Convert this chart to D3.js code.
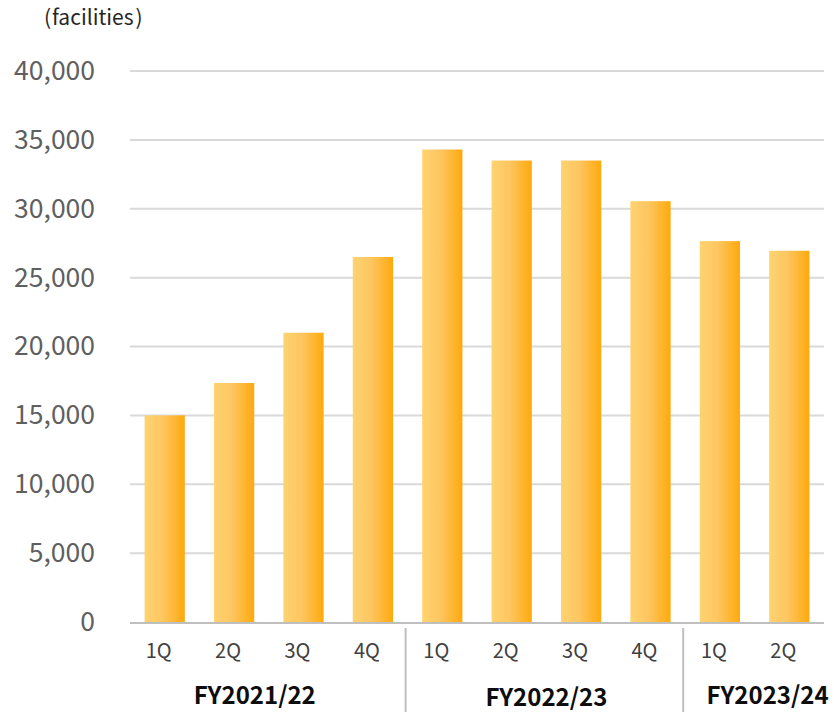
<!DOCTYPE html>
<html>
<head>
<meta charset="utf-8">
<script src="https://cdn.jsdelivr.net/npm/d3@7"></script>
<style>
  body { margin: 0; background: #fff; }
  text { font-family: "Noto Sans CJK JP", "Noto Sans", sans-serif; }
</style>
</head>
<body>
<div id="chart"></div>
<script>
// data
var quarters = ["1Q", "2Q", "3Q", "4Q", "1Q", "2Q", "3Q", "4Q", "1Q", "2Q"];
var fiscalYears = ["FY2021/22", "FY2022/23", "FY2023/24"];
var quartersPerYear = [4, 4, 2];
var facilities = [15000, 17350, 21000, 26500, 34300, 33500, 33500, 30550, 27650, 26950];
var yTicks = [0, 5000, 10000, 15000, 20000, 25000, 30000, 35000, 40000];

var svgWidth = 834;
var svgHeight = 712;
var margin = { top: 71, right: 10, bottom: 90, left: 130 };
var chartWidth = svgWidth - margin.left - margin.right;
var chartHeight = svgHeight - margin.top - margin.bottom;

var svg = d3.select("#chart")
  .append("svg")
  .attr("width", svgWidth)
  .attr("height", svgHeight);

// bar gradient, light on the left, orange on the right
var grad = svg.append("defs").append("linearGradient")
  .attr("id", "barGrad")
  .attr("x1", "0%").attr("x2", "100%")
  .attr("y1", "0%").attr("y2", "0%");
grad.append("stop").attr("offset", "0%").attr("stop-color", "#ffd370");
grad.append("stop").attr("offset", "45%").attr("stop-color", "#fdc661");
grad.append("stop").attr("offset", "100%").attr("stop-color", "#ffa90c");

var chartGroup = svg.append("g")
  .attr("transform", `translate(${margin.left}, ${margin.top})`);

var xBand = d3.scaleBand()
  .domain(d3.range(facilities.length))
  .range([0, chartWidth])
  .paddingInner(0.42)
  .paddingOuter(0.21);

var yLinearScale = d3.scaleLinear()
  .domain([0, 40000])
  .range([chartHeight, 0]);

// gridlines
chartGroup.selectAll(".grid")
  .data(yTicks.slice(1))
  .enter()
  .append("line")
  .attr("class", "grid")
  .attr("x1", 0)
  .attr("x2", chartWidth)
  .attr("y1", d => yLinearScale(d))
  .attr("y2", d => yLinearScale(d))
  .attr("stroke", "#d9d9d9")
  .attr("stroke-width", 2);

// y labels
var leftAxis = d3.axisLeft(yLinearScale)
  .tickValues(yTicks)
  .tickFormat(d3.format(","))
  .tickSize(0)
  .tickPadding(35);

var yAxisG = chartGroup.append("g").call(leftAxis);
yAxisG.select(".domain").remove();
yAxisG.selectAll("text")
  .attr("font-size", "26.5px")
  .attr("fill", "#5f5f5f")
  .attr("font-family", "\"Noto Sans CJK JP\", \"Noto Sans\", sans-serif");

// bars
chartGroup.selectAll(".bar")
  .data(facilities)
  .enter()
  .append("rect")
  .attr("class", "bar")
  .attr("x", (d, i) => xBand(i))
  .attr("y", d => yLinearScale(d))
  .attr("width", xBand.bandwidth())
  .attr("height", d => chartHeight - yLinearScale(d))
  .attr("fill", "url(#barGrad)");

// category axis line
chartGroup.append("line")
  .attr("x1", 0)
  .attr("x2", chartWidth)
  .attr("y1", chartHeight + 1)
  .attr("y2", chartHeight + 1)
  .attr("stroke", "#bfbfbf")
  .attr("stroke-width", 2);

// quarter labels
chartGroup.selectAll(".qlabel")
  .data(quarters)
  .enter()
  .append("text")
  .attr("class", "qlabel")
  .attr("x", (d, i) => xBand(i) + xBand.bandwidth() / 2 - 6)
  .attr("y", chartHeight + 36)
  .attr("text-anchor", "middle")
  .attr("font-size", "20px")
  .attr("fill", "#404040")
  .text(d => d);

// fiscal year groups
var step = xBand.step();
var starts = [];
var acc = 0;
quartersPerYear.forEach(function(n) { starts.push(acc); acc += n; });

// separators between the years
chartGroup.selectAll(".sep")
  .data(starts.slice(1))
  .enter()
  .append("line")
  .attr("class", "sep")
  .attr("x1", d => d * step - 2)
  .attr("x2", d => d * step - 2)
  .attr("y1", chartHeight + 6)
  .attr("y2", svgHeight - margin.top)
  .attr("stroke", "#bfbfbf")
  .attr("stroke-width", 2);

var labelShift = [-14, 0, 13];
chartGroup.selectAll(".fy")
  .data(fiscalYears)
  .enter()
  .append("text")
  .attr("class", "fy")
  .attr("x", (d, i) => (starts[i] + quartersPerYear[i] / 2) * step + labelShift[i])
  .attr("y", (d, i) => chartHeight + (i === 1 ? 84 : 82))
  .attr("text-anchor", "middle")
  .attr("font-size", "24px")
  .attr("font-weight", "bold")
  .attr("fill", "#0d0d0d")
  .text(d => d);

// unit label
var unit = svg.append("text")
  .attr("x", 44)
  .attr("y", 25)
  .attr("font-size", "21px")
  .attr("fill", "#262626");
unit.append("tspan").text("(");
unit.append("tspan").attr("x", 52).text("facilities");
unit.append("tspan").attr("dx", 2).text(")");
</script>
</body>
</html>
